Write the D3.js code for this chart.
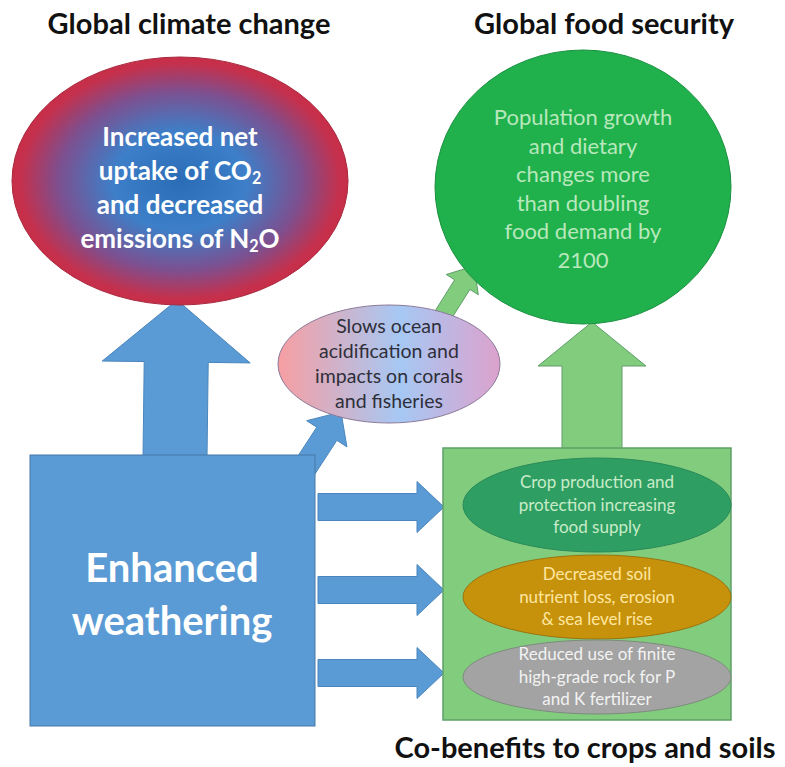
<!DOCTYPE html>
<html>
<head>
<meta charset="utf-8">
<script src="https://cdn.jsdelivr.net/npm/d3@7"></script>
<style>
  html, body { margin: 0; padding: 0; background: #fff; }
  svg { display: block; }
</style>
</head>
<body>
<div id="chart"></div>
<script>
// ─── DATA ──────────────────────────────────────────────────────
const titles = ['Global climate change', 'Global food security', 'Co-benefits to crops and soils']
const climateLines = ['Increased net', 'uptake of CO|2', 'and decreased', 'emissions of N|2|O']
const foodLines = ['Population growth', 'and dietary', 'changes more', 'than doubling', 'food demand by', '2100']
const oceanLines = ['Slows ocean', 'acidification and', 'impacts on corals', 'and fisheries']
const sourceLines = ['Enhanced', 'weathering']
const benefitNames = ['crops', 'soil', 'rock']
const benefitLines = [
  ['Crop production and', 'protection increasing', 'food supply'],
  ['Decreased soil', 'nutrient loss, erosion', '& sea level rise'],
  ['Reduced use of finite', 'high-grade rock for P', 'and K fertilizer']
]

const W = 785, H = 767
const FONT = 'Lato, "Open Sans", sans-serif'

const svg = d3.select('#chart').append('svg')
  .attr('width', W)
  .attr('height', H)

const defs = svg.append('defs')

// red / blue radial for the climate ellipse
const rg = defs.append('radialGradient').attr('id', 'climateGrad')
  .attr('cx', '50%').attr('cy', '50%').attr('r', '50%')
rg.append('stop').attr('offset', '0%').attr('stop-color', '#2a6cb6')
rg.append('stop').attr('offset', '40%').attr('stop-color', '#3d7fc8')
rg.append('stop').attr('offset', '72%').attr('stop-color', '#7c5090')
rg.append('stop').attr('offset', '95%').attr('stop-color', '#c5304c')
rg.append('stop').attr('offset', '100%').attr('stop-color', '#c82e48')

// pink / blue linear for the ocean ellipse
const og = defs.append('linearGradient').attr('id', 'oceanGrad')
  .attr('x1', '0%').attr('x2', '100%').attr('y1', '0%').attr('y2', '0%')
og.append('stop').attr('offset', '0%').attr('stop-color', '#f79ea2')
og.append('stop').attr('offset', '55%').attr('stop-color', '#a6c8f4')
og.append('stop').attr('offset', '100%').attr('stop-color', '#dca2cc')

// arrow polygon: from (x0,y0) to tip (x1,y1)
function arrowPoints(x0, y0, x1, y1, shaft, head, headLen) {
  const dx = x1 - x0, dy = y1 - y0
  const len = Math.hypot(dx, dy)
  const ux = dx / len, uy = dy / len
  const nx = -uy, ny = ux
  const bx = x1 - ux * headLen, by = y1 - uy * headLen
  const p = (x, y, s) => [x + nx * s, y + ny * s]
  return [
    p(x0, y0, shaft / 2), p(bx, by, shaft / 2), p(bx, by, head / 2),
    [x1, y1],
    p(bx, by, -head / 2), p(bx, by, -shaft / 2), p(x0, y0, -shaft / 2)
  ]
}
function drawArrow(pts, fill, stroke) {
  svg.append('polygon')
    .attr('points', pts.map(d => d.join(',')).join(' '))
    .attr('fill', fill)
    .attr('stroke', stroke)
    .attr('stroke-width', 1)
}

// text lines centred on (cx, cy); "|" marks a subscript part
function drawLines(lines, cx, cy, step, size, weight, color) {
  const y = d3.scaleLinear()
    .domain([0, lines.length - 1])
    .range([cy - step * (lines.length - 1) / 2, cy + step * (lines.length - 1) / 2])
  lines.forEach((line, i) => {
    const t = svg.append('text')
      .attr('x', cx)
      .attr('y', y(i))
      .attr('dy', '0.35em')
      .attr('text-anchor', 'middle')
      .attr('font-family', FONT)
      .attr('font-size', size)
      .attr('font-weight', weight)
      .attr('fill', color)
    line.split('|').forEach((part, j) => {
      const sub = j % 2 === 1
      t.append('tspan')
        .attr('font-size', sub ? size * 0.62 : size)
        .attr('dy', j === 0 ? null : (sub ? size * 0.16 : -size * 0.16))
        .text(part)
    })
  })
}

// ─── ARROWS (behind the shapes) ───────────────────────────────
drawArrow(arrowPoints(175, 458, 177, 300, 64, 148, 62), '#5b9bd5', '#4a86bd')   // box -> climate
drawArrow(arrowPoints(592, 450, 592, 322, 60, 108, 44), '#82cc7e', '#5f9e6a')   // benefits -> food
drawArrow(arrowPoints(298, 478, 341, 412, 24, 48, 26), '#5b9bd5', '#4a86bd')    // box -> ocean
drawArrow(arrowPoints(440, 320, 474, 266, 18, 38, 22), '#82cc7e', '#5f9e6a')    // ocean -> food

const arrowY = d3.scalePoint().domain(benefitNames).range([507, 673])
benefitNames.forEach(n => {
  drawArrow(arrowPoints(318, arrowY(n), 444, arrowY(n), 27, 51, 27), '#5b9bd5', '#4a86bd')
})

// ─── SHAPES ───────────────────────────────────────────────────
svg.append('ellipse')
  .attr('cx', 180).attr('cy', 181).attr('rx', 168).attr('ry', 124)
  .attr('fill', 'url(#climateGrad)')
  .attr('stroke', '#a8283e').attr('stroke-width', 1)

svg.append('ellipse')
  .attr('cx', 583).attr('cy', 187).attr('rx', 148).attr('ry', 137)
  .attr('fill', '#20b04c')
  .attr('stroke', '#1a9040').attr('stroke-width', 1)

svg.append('ellipse')
  .attr('cx', 389).attr('cy', 364).attr('rx', 111).attr('ry', 59)
  .attr('fill', 'url(#oceanGrad)')
  .attr('stroke', '#8a7a98').attr('stroke-width', 1)

svg.append('rect')
  .attr('x', 30).attr('y', 455).attr('width', 285).attr('height', 271)
  .attr('fill', '#5b9bd5')
  .attr('stroke', '#4678a8').attr('stroke-width', 1)

svg.append('rect')
  .attr('x', 443).attr('y', 448).attr('width', 288).attr('height', 272)
  .attr('fill', '#82cc7e')
  .attr('stroke', '#5f9e6a').attr('stroke-width', 1.5)

const benefitFill = { crops: '#2f9e63', soil: '#c7920b', rock: '#a3a3a3' }
const benefitStroke = { crops: '#2a8a58', soil: '#9a7410', rock: '#7d8c7d' }
const benefitText = { crops: '#c8ecc8', soil: '#ffe7a0', rock: '#f2f2f2' }
const benefitCy = { crops: 505, soil: 597, rock: 677 }
const benefitRy = { crops: 47, soil: 42, rock: 37 }
benefitNames.forEach(n => {
  svg.append('ellipse')
    .attr('cx', 597).attr('cy', benefitCy[n]).attr('rx', 134).attr('ry', benefitRy[n])
    .attr('fill', benefitFill[n])
    .attr('stroke', benefitStroke[n]).attr('stroke-width', 1)
})

// ─── TEXT ─────────────────────────────────────────────────────
drawLines(climateLines, 180, 188, 34, 26, 700, '#ffffff')
drawLines(foodLines, 583, 189, 28.5, 22, 400, '#b8e8bc')
drawLines(oceanLines, 389, 364, 25, 19.5, 400, '#2f2f3a')
drawLines(sourceLines, 172, 594, 53, 40, 700, '#ffffff')
benefitNames.forEach((n, i) => {
  drawLines(benefitLines[i], 597, benefitCy[n], 22.5, 17, 400, benefitText[n])
})

const titlePos = [[189, 24], [604, 24], [585, 748]]
titles.forEach((t, i) => {
  svg.append('text')
    .attr('x', titlePos[i][0]).attr('y', titlePos[i][1])
    .attr('dy', '0.35em')
    .attr('text-anchor', 'middle')
    .attr('font-family', FONT)
    .attr('font-size', 29)
    .attr('font-weight', 700)
    .attr('fill', '#111')
    .text(t)
})
</script>
</body>
</html>
